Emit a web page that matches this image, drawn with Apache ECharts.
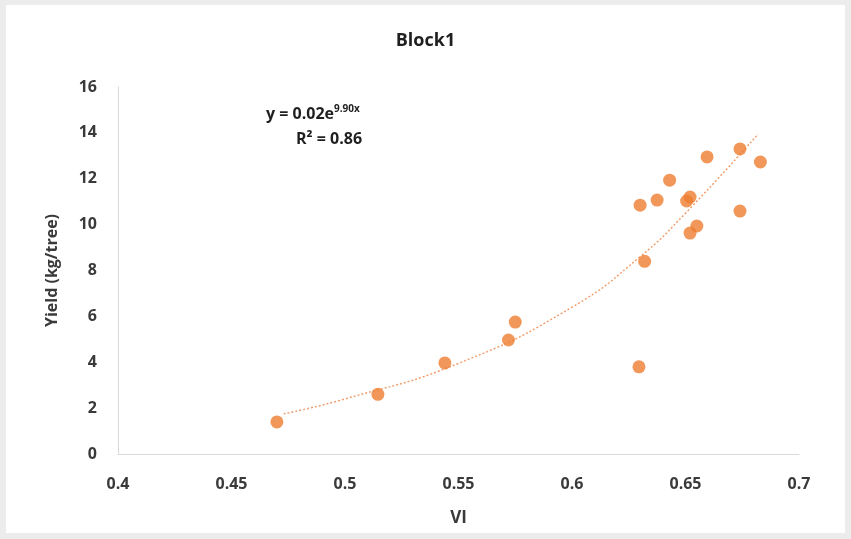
<!DOCTYPE html>
<html>
<head>
<meta charset="utf-8">
<script src="https://cdn.jsdelivr.net/npm/echarts@6/dist/echarts.min.js"></script>
<style>
  html, body { margin: 0; padding: 0; background: #ececec; }
  #frame { position: absolute; left: 6px; top: 5px; width: 839px; height: 528px; background: #fff; }
  #chart { width: 851px; height: 539px; position: absolute; left: 0; top: 0; }
</style>
</head>
<body>
<div id="frame"></div>
<div id="chart"></div>
<script>
// observed points (VI, yield)
const viValues = [0.470, 0.5145, 0.544, 0.572, 0.575, 0.6295, 0.630, 0.6375, 0.643, 0.6505, 0.652, 0.6595, 0.674, 0.683, 0.674, 0.655, 0.652, 0.632]
const yieldValues = [1.4, 2.6, 3.97, 4.97, 5.75, 3.8, 10.85, 11.07, 11.94, 11.03, 11.2, 12.95, 13.3, 12.73, 10.59, 9.94, 9.63, 8.4]

// trendline
const trendVI = [0.473, 0.50, 0.55, 0.60, 0.63, 0.65, 0.682]
const trendYield = [1.75, 2.4, 3.95, 6.4, 8.6, 10.5, 13.95]

const xTicks = [0.4, 0.45, 0.5, 0.55, 0.6, 0.65, 0.7]
const yTicks = [0, 2, 4, 6, 8, 10, 12, 14, 16]

const chart = echarts.init(document.getElementById('chart'))

const labelFont = {
  fontFamily: 'Open Sans',
  fontWeight: 'bold',
  color: '#3a3a3a'
}

chart.setOption({
  animation: false,
  backgroundColor: 'transparent',
  title: {
    text: 'Block1',
    left: 'center',
    top: 27,
    textStyle: { ...labelFont, fontSize: 18, color: '#1f1f1f' }
  },
  grid: { left: 118, right: 52, top: 87, bottom: 85 },
  xAxis: {
    type: 'value',
    min: xTicks[0],
    max: xTicks[xTicks.length - 1],
    interval: 0.05,
    name: 'VI',
    nameLocation: 'middle',
    nameGap: 56,
    nameTextStyle: { ...labelFont, fontSize: 17 },
    axisLine: { show: true, lineStyle: { color: '#d9d9d9', width: 1 } },
    axisTick: { show: false },
    splitLine: { show: false },
    axisLabel: {
      ...labelFont,
      fontSize: 16,
      margin: 22,
      formatter: v => String(+v.toFixed(2))
    }
  },
  yAxis: {
    type: 'value',
    min: yTicks[0],
    max: yTicks[yTicks.length - 1],
    interval: 2,
    name: 'Yield (kg/tree)',
    nameLocation: 'middle',
    nameGap: 58,
    nameRotate: 90,
    nameTextStyle: { ...labelFont, fontSize: 16 },
    axisLine: { show: true, lineStyle: { color: '#d9d9d9', width: 1 } },
    axisTick: { show: false },
    splitLine: { show: false },
    axisLabel: { ...labelFont, fontSize: 16, margin: 21 }
  },
  graphic: [
    {
      type: 'text',
      left: 266,
      top: 104,
      style: {
        text: '{b|y = 0.02e}{s|9.90x}',
        rich: {
          b: { fontFamily: 'Open Sans', fontWeight: 'bold', fontSize: 16, fill: '#1f1f1f' },
          s: { fontFamily: 'Open Sans', fontWeight: 'bold', fontSize: 10, fill: '#1f1f1f', verticalAlign: 'top', padding: [0, 0, 10, 0] }
        }
      }
    },
    {
      type: 'text',
      left: 296,
      top: 131,
      style: {
        text: 'R² = 0.86',
        fontFamily: 'Open Sans',
        fontWeight: 'bold',
        fontSize: 16,
        fill: '#1f1f1f'
      }
    }
  ],
  series: [
    {
      type: 'line',
      data: trendVI.map((x, i) => [x, trendYield[i]]),
      smooth: true,
      showSymbol: false,
      lineStyle: { color: '#F0A070', width: 1.5, type: [2, 2] },
      z: 1
    },
    {
      type: 'scatter',
      data: viValues.map((x, i) => [x, yieldValues[i]]),
      symbolSize: 13,
      itemStyle: { color: '#ED7D31' },
      z: 2
    }
  ]
})
</script>
</body>
</html>
